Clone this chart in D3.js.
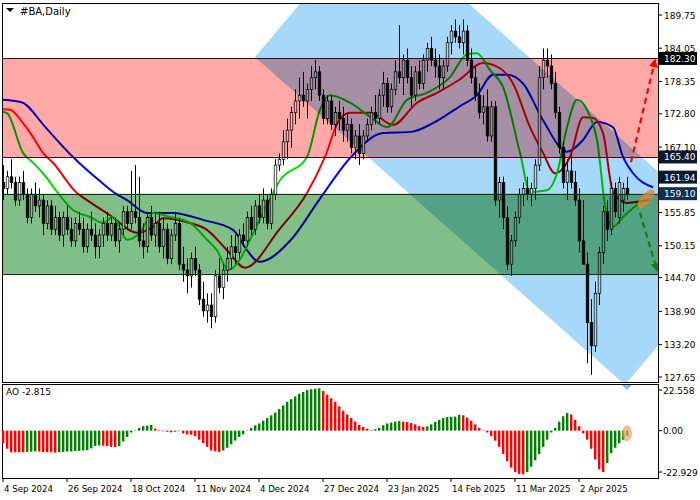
<!DOCTYPE html>
<html><head><meta charset="utf-8">
<script src="https://cdn.jsdelivr.net/npm/d3@7"></script>
<style>body{margin:0;background:#fff}svg{font-family:"DejaVu Sans",sans-serif}</style>
</head><body><svg id="c" width="700" height="500"></svg>
<script>
const dateLabels=["4 Sep 2024","26 Sep 2024","18 Oct 2024","11 Nov 2024","4 Dec 2024","27 Dec 2024","23 Jan 2025","14 Feb 2025","11 Mar 2025","2 Apr 2025"];
const priceTicks=[189.75,184.05,178.35,172.80,167.10,155.85,150.15,144.70,138.90,133.20,127.65];
const levels=[182.30,165.40,159.10,145.30];
const ohlc=[
[161,164,158,160],[160,163,159,162],[162,165,160,161],[161,162,157,158],[158,162,157,161],[161,163,158,159],[159,160,154,155],[155,160,154,159],
[159,161,156,157],[157,160,155,158],[158,159,152,154],[154,158,153,157],[157,158,152,153],[153,157,152,155],[155,156,151,152],[152,156,150,155],
[155,157,152,153],[153,155,150,151],[151,155,150,154],[154,156,152,153],[153,155,149,150],[150,154,149,153],[153,156,151,152],[152,154,148,150],
[150,153,148,152],[152,155,150,154],[154,156,151,152],[152,155,151,154],[154,155,150,151],[151,154,149,153],[153,157,152,156],[156,157,153,154],
[154,163,153,156],[156,164,154,155],[155,162,150,151],[151,154,148,150],[150,156,149,155],[155,157,151,152],[152,156,150,154],[154,156,149,150],
[150,155,148,153],[153,154,147,148],[148,153,147,152],[152,156,151,154],[154,155,146,147],[147,150,144,146],[146,148,142,145],[145,149,143,148],
[148,150,145,146],[146,147,140,141],[141,144,138,139],[139,142,137,140],[140,142,136,138],[138,146,137,145],[145,148,142,143],[143,147,141,146],
[146,150,144,148],[148,152,146,150],[150,152,147,149],[149,153,148,152],[152,154,150,151],[151,156,150,155],[155,157,152,153],[153,158,152,157],
[157,159,154,155],[155,160,154,158],[158,159,153,154],[154,160,153,159],[159,165,158,164],[164,166,163,165],[165,170,164,168],[168,172,165,170],
[170,174,167,173],[173,177,171,175],[175,179,172,176],[176,180,174,175],[175,178,172,177],[177,181,175,179],[179,182,177,180],[180,181,175,176],
[176,177,171,172],[172,176,171,175],[175,176,170,171],[171,174,169,173],[173,175,170,172],[172,174,168,170],[170,173,168,171],[171,172,166,167],
[167,170,165,169],[169,171,164,166],[166,170,165,169],[169,172,168,171],[171,174,170,173],[173,176,171,172],[172,177,171,176],[176,180,174,178],
[178,179,173,174],[174,178,173,177],[177,182,176,180],[180,188,178,179],[179,183,176,182],[182,184,178,179],[179,181,174,176],[176,181,175,180],
[180,182,177,178],[178,183,177,182],[182,185,180,184],[184,186,181,182],[182,184,179,181],[181,183,177,179],[179,182,177,181],[181,186,180,185],
[185,188,183,187],[187,189,185,186],[186,188,184,185],[185,189,183,187],[187,188,181,182],[182,184,178,179],[179,181,175,176],[176,178,172,173],
[173,176,171,174],[174,177,168,169],[169,175,168,174],[174,175,157,158],[158,162,155,161],[161,162,153,155],[155,157,146,147],[147,152,145,151],
[151,156,150,155],[155,160,154,159],[159,161,157,160],[160,162,158,159],[159,161,157,160],[160,165,158,164],[164,181,163,179],[179,184,177,182],
[182,184,179,181],[181,183,177,178],[178,180,172,173],[173,174,166,167],[167,168,160,161],[161,165,158,163],[163,166,160,161],[161,163,157,158],
[158,160,149,151],[151,158,148,147],[147,149,130,137],
[137,141,128,133],[133,144,132,142],[142,150,140,149],[149,157,147,156],[156,158,151,153],[153,161,152,160],[160,161,155,156],
[155,162,154,161],[158,161,156,160],[160,162,158,159]];
const blueLine=[[0,175.2],[5,174.7],[6,174.2],[10,171],[17.5,165.4],[24,161.4],[28,159.2],[31,158],[36,155.8],[42.5,155.8],[50,154.6],[57.5,152.9],[61,149.4],[64,147.4],[72,151.2],[79,158],[87,165.4],[95,169.5],[102,169.7],[107.5,171.2],[114,174],[118.5,176],[122.5,179.5],[126,179.5],[130,178],[135,171.7],[141,166.3],[145,168.3],[148.5,171.4],[152.5,170.5],[155,165.4],[157.5,162.6],[162.5,160.2]];
const redLine=[[0,173.6],[1.75,173.5],[5,171.2],[7.5,168.8],[10,166.1],[12.5,164.4],[18.5,159.2],[21,158],[26.75,155.4],[33.5,152.4],[37.5,153.4],[40,154.9],[46,154.2],[51,152.9],[56,149.4],[60.5,146.4],[69,152.9],[76,159.2],[80.5,165.4],[84,171.7],[86.75,173],[91.75,173],[97.5,170.9],[103.5,174.7],[108.5,176.4],[114,178.6],[120,181.5],[124,180.7],[127.5,178],[131.75,170.5],[135,166.1],[138,162.6],[141.75,165.4],[145,172.2],[147.5,172.1],[150,169.5],[152.5,159.4],[156,157.5],[158.5,157.7],[161.75,158]];
const greenLine=[[0,173.1],[1,172.9],[5,166.1],[7.5,164.4],[10,162.6],[13.75,159.2],[17.5,156.3],[21.75,155.1],[25,154.1],[27.5,155.1],[31,151.2],[34.25,152.4],[37.5,155.8],[41.75,155.1],[46.75,154.1],[51,151.2],[53.5,149.4],[56.25,146],[64.75,155.4],[69.25,161.4],[76,165.4],[79.25,173.5],[81.75,176],[86.75,174.7],[91.75,172.3],[96,170.5],[101,175.2],[106,176.4],[111.75,179.1],[116,183],[118.5,183.2],[121.75,180.3],[125,177.4],[129.25,166.1],[131.75,159.4],[136,159.7],[138.5,162.6],[141,170.5],[143.5,175.2],[146,173.5],[148.5,168.3],[151,155.1],[152.5,153.4],[155,155.1],[158.5,157.2]];
const ao=[-7,-10,-12,-12,-12,-12,-11.8,-11.6,-11.5,-11.6,-11.8,-12,-12,-12.2,-12,-11.8,-11.6,-11.5,-11.3,-11.2,-11,-10.8,-9.8,-8.5,-8.2,-8.4,-8.6,-9,-9,-8.6,-6,-3.5,-1,0.2,1.5,2.5,2.8,3.2,1.2,0.3,-0.3,-0.6,-0.9,-0.6,-0.3,-1.5,-2,-2.2,-3,-5,-7,-9,-11,-11.5,-11.8,-11,-9.5,-7.5,-5.5,-3.5,-2,0.2,1.5,3,4,5.5,7,8.5,10,12,14,16,17.5,19,20.5,21.5,22.5,23,23.3,23.5,22,20,18,16,13.5,11,9,7,5,3.2,2,1,0.3,0.8,1.5,3,4,4.5,5,5.3,5,4.8,4.2,3.5,2.5,2,2.4,3.5,4.8,6,7,7.6,7.7,7.8,8.8,8.5,7.2,5.5,3.5,1.5,0.2,-1,-3,-5.5,-9,-13,-17,-20.5,-23,-24,-24.2,-23,-20,-16.5,-13,-9,-5,-1,1.5,5,8,9.8,9,6,2.5,-1.5,-5,-10,-16,-21.5,-23,-18,-12.5,-9.5,-7,-5,-2.815];
const aoTicks=[22.558,0,-22.929];

const svg=d3.select("#c");
const L=2,R=658,T=3,B=382,AT=384,AB=478;
const x=d3.scaleLinear().domain([0,156]).range([3,627]);
const y=d3.scaleLinear().domain([127.65,189.75]).range([377,15]);
const ya=d3.scaleLinear().domain([-22.929,22.558]).range([472,390]);
svg.append("defs").append("clipPath").attr("id","cp").append("rect").attr("x",L).attr("y",T).attr("width",R-L).attr("height",B-T);
const g=svg.append("g").attr("clip-path","url(#cp)");
const ln=d3.line().x(d=>x(d[0])).y(d=>y(d[1])).curve(d3.curveMonotoneX);
[[blueLine,"#0000ff"],[redLine,"#ff0000"],[greenLine,"#00dd00"]].forEach(([d,c])=>g.append("path").attr("d",ln(d)).attr("fill","none").attr("stroke",c).attr("stroke-width",2));
ohlc.forEach((d,i)=>{const [o,h,l,c]=d;const cx=Math.round(x(i))+0.5;
 g.append("line").attr("x1",cx).attr("x2",cx).attr("y1",y(h)).attr("y2",y(l)).attr("stroke","#000");
 const t=y(Math.max(o,c)),b=y(Math.min(o,c));
 g.append("rect").attr("x",cx-1.3).attr("y",t).attr("width",2.6).attr("height",Math.max(1,b-t)).attr("fill",c>=o?"#fff":"#000").attr("stroke","#000").attr("stroke-width",0.7);});
const ov=g.append("g");
ov.append("rect").attr("x",L).attr("width",R-L).attr("y",y(levels[0])).attr("height",y(levels[1])-y(levels[0])).attr("fill","#ffa8a8").style("mix-blend-mode","multiply");
ov.append("rect").attr("x",L).attr("width",R-L).attr("y",y(levels[2])).attr("height",y(levels[3])-y(levels[2])).attr("fill","#80c088").style("mix-blend-mode","multiply");
const chan=[[63,182.55],[92.3,206.4],[184.8,150.1],[155.5,126.3]];
ov.append("path").attr("d",d3.line().x(d=>x(d[0])).y(d=>y(d[1]))(chan)+"Z").attr("fill","#a6d8fa").style("mix-blend-mode","multiply");
levels.forEach((v,k)=>ov.append("line").attr("x1",L).attr("x2",R).attr("y1",Math.round(y(v))+0.5).attr("y2",Math.round(y(v))+0.5).attr("stroke",k==1?"#500010":k==0?"#301010":"#103010").attr("stroke-width",1.2));
const mk=(id,c)=>svg.select("defs").append("marker").attr("id",id).attr("viewBox","0 0 10 10").attr("refX",8).attr("refY",5).attr("markerWidth",4).attr("markerHeight",4).attr("orient","auto").append("path").attr("d","M0,0L10,5L0,10Z").attr("fill",c);
mk("ar","#ff0000");mk("ag","#108010");
g.append("line").attr("x1",x(157)).attr("y1",y(164.5)).attr("x2",x(163)).attr("y2",y(182)).attr("stroke","#ff0000").attr("stroke-width",2.2).attr("stroke-dasharray","6,4").attr("marker-end","url(#ar)");
g.append("line").attr("x1",x(158.5)).attr("y1",y(157.5)).attr("x2",x(163.5)).attr("y2",y(146)).attr("stroke","#108010").attr("stroke-width",2.2).attr("stroke-dasharray","6,4").attr("marker-end","url(#ag)");
g.append("ellipse").attr("cx",x(160.7)).attr("cy",y(158.2)).attr("rx",12).attr("ry",5).attr("transform",`rotate(-50 ${x(160.7)} ${y(158.2)})`).attr("fill","#e08a30").attr("opacity",0.75);
svg.append("rect").attr("x",L+0.5).attr("y",T+0.5).attr("width",R-L).attr("height",B-T).attr("fill","none").attr("stroke","#000");
svg.append("rect").attr("x",L+0.5).attr("y",AT+0.5).attr("width",R-L).attr("height",AB-AT).attr("fill","none").attr("stroke","#000");
svg.append("text").attr("x",20).attr("y",15).attr("font-size",10).text("#BA,Daily");
svg.append("path").attr("d","M6,8L14,8L10,12Z").attr("fill","#000");
priceTicks.forEach(v=>{svg.append("line").attr("x1",R).attr("x2",R+4).attr("y1",y(v)).attr("y2",y(v)).attr("stroke","#000");
 svg.append("text").attr("x",664).attr("y",y(v)+3.5).attr("font-size",9).text(v.toFixed(2));});
[[182.30,"#000"],[165.40,"#0a1830"],[161.94,"#0a1830"],[159.10,"#10304e"]].forEach(([v,c])=>{
 svg.append("rect").attr("x",R+1).attr("y",y(v)-6.5).attr("width",38).attr("height",13).attr("fill",c);
 svg.append("text").attr("x",664).attr("y",y(v)+3.5).attr("font-size",9).attr("fill","#fff").text(v.toFixed(2));});
svg.append("text").attr("x",6).attr("y",395).attr("font-size",9).text("AO -2.815");
ao.forEach((v,i)=>{const up=i==0?false:v>ao[i-1];
 svg.append("rect").attr("x",x(i)-1).attr("width",2.4).attr("y",Math.min(ya(v),ya(0))).attr("height",Math.abs(ya(v)-ya(0))).attr("fill",up?"#008000":"#ff0000");});
svg.append("ellipse").attr("cx",x(156)).attr("cy",ya(-1.5)).attr("rx",5).attr("ry",8).attr("fill","#f0a060").attr("opacity",0.7);
svg.append("path").attr("d",`M${x(156)-5},${AT+1}L${x(156)+5},${AT+1}L${x(156)},${AT+6}Z`).attr("fill","#80c0f0");
aoTicks.forEach(v=>{svg.append("line").attr("x1",R).attr("x2",R+4).attr("y1",ya(v)).attr("y2",ya(v)).attr("stroke","#000");
 svg.append("text").attr("x",663).attr("y",ya(v)+3.5).attr("font-size",9).text(v.toFixed(v===0?2:3));});
dateLabels.forEach((s,k)=>{const px=x(k*16);
 svg.append("line").attr("x1",px).attr("x2",px).attr("y1",AB).attr("y2",AB+4).attr("stroke","#000");
 svg.append("text").attr("x",px+1).attr("y",492).attr("font-size",8.6).text(s);});
</script></body></html>
